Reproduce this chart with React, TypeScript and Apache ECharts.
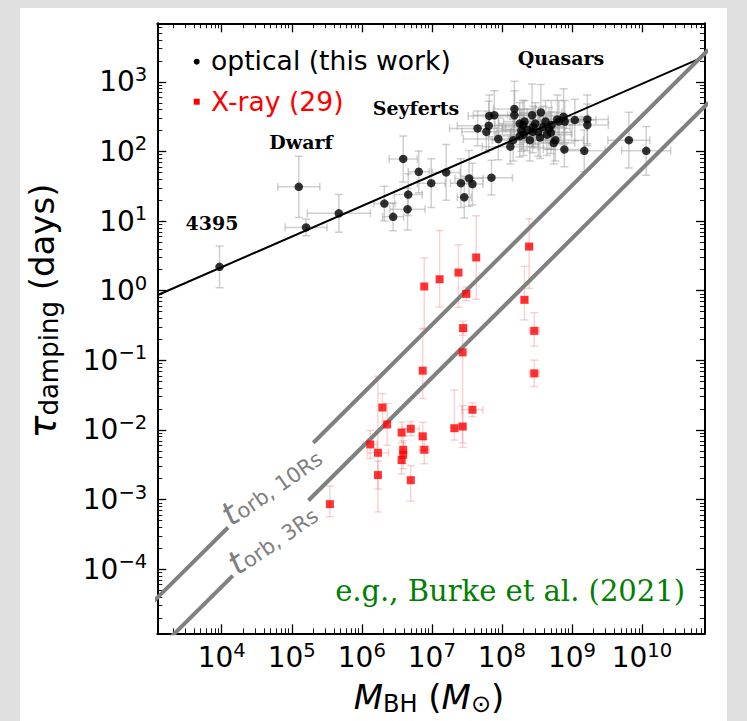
import React, { useEffect, useRef } from "react";
import * as echarts from "echarts";

// ---- axis ranges (log10 units) and tick labels ----
const xLogRange = [3.08, 10.9];
const yLogRange = [-4.92, 3.84];
const xTickExponents = [4, 5, 6, 7, 8, 9, 10];
const yTickExponents = [-4, -3, -2, -1, 0, 1, 2, 3];

// ---- optical (this work): M_BH [Msun], tau [days], errors [dex] ----
const opticalMass = [9.3e3, 1.26e5, 1.6e5, 4.7e5, 2.1e6, 2.8e6, 3.9e6, 4.5e6, 4.6e6, 6.5e6, 9.8e6, 1.6e7, 2.6e7, 2.9e7, 3.4e7, 3.8e7, 7.1e7, 4.5e7, 6.0e7, 6.5e7, 6.6e7, 7.8e7, 8.9e7, 1.32e8, 1.45e8, 1.51e8, 1.51e8, 2.0e8, 2.3e8, 2.04e8, 2.5e8, 2.7e8, 2.8e8, 3.3e8, 3.6e8, 3.9e8, 4.4e8, 5.1e8, 5.8e8, 5.5e8, 6.2e8, 6.5e8, 7.6e8, 7.9e8, 7.8e8, 1.1e9, 1.5e9, 1.66e9, 1.66e9, 6.5e9, 1.15e10, 1.8e8, 1.9e8, 2.1e8, 3.0e8, 4.2e8, 4.7e8, 2.75e8, 3.5e8, 1.8e8, 5.0e8];
const opticalTau = [2.2, 31, 8.1, 12.9, 17.8, 11.5, 78, 14.8, 24, 51, 35, 50, 35, 22, 41, 34, 42, 214, 191, 234, 324, 331, 151, 117, 145, 407, 331, 240, 204, 174, 145, 331, 224, 191, 363, 224, 174, 240, 145, 132, 288, 269, 316, 269, 107, 282, 102, 288, 240, 145, 102, 251, 200, 269, 251, 269, 214, 191, 158, 166, 186];
const opticalMassErrDex = [0, 0.3, 0.3, 0.45, 0.15, 0.15, 0.2, 0.25, 0.2, 0.15, 0.2, 0.2, 0.15, 0.1, 0.2, 0.15, 0.3, 0.4, 0.35, 0.45, 0.3, 0.3, 0.5, 0.4, 0.3, 0.3, 0.35, 0.4, 0.35, 0.4, 0.3, 0.35, 0.45, 0.3, 0.3, 0.3, 0.35, 0.3, 0.4, 0.3, 0.35, 0.3, 0.35, 0.3, 0.3, 0.3, 0.3, 0.3, 0.3, 0.3, 0.35, 0.3, 0.35, 0.3, 0.3, 0.3, 0.3, 0.3, 0.3, 0.3, 0.3];
const opticalTauErrDex = [0.3, 0.44, 0.12, 0.27, 0.25, 0.2, 0.33, 0.3, 0.3, 0.3, 0.35, 0.4, 0.35, 0.3, 0.4, 0.3, 0.25, 0.25, 0.3, 0.35, 0.3, 0.35, 0.3, 0.25, 0.3, 0.4, 0.35, 0.35, 0.3, 0.3, 0.3, 0.45, 0.3, 0.35, 0.4, 0.3, 0.3, 0.35, 0.3, 0.3, 0.35, 0.3, 0.4, 0.3, 0.25, 0.3, 0.3, 0.35, 0.3, 0.4, 0.35, 0.3, 0.3, 0.3, 0.3, 0.3, 0.3, 0.3, 0.3, 0.3, 0.3];

// ---- X-ray (29) ----
const xrayMass = [2.45e8, 4.3e7, 2.4e7, 1.29e7, 7.8e6, 7.4e6, 3.1e7, 2.8e7, 2.75e7, 2.1e8, 2.9e8, 2.9e8, 1.97e6, 2.3e6, 1.32e6, 1.7e6, 1.7e6, 3.7e6, 3.9e6, 3.9e6, 3.7e6, 5.0e6, 5.0e6, 7.4e6, 7.8e6, 2.1e7, 2.75e7, 3.8e7, 3.5e5];
const xrayTau = [4.3, 3.0, 1.82, 1.46, 1.15, 0.071, 0.9, 0.29, 0.13, 0.74, 0.265, 0.065, 0.021, 0.012, 0.0062, 0.0047, 0.00225, 0.0092, 0.0052, 0.0044, 0.0037, 0.0104, 0.0019, 0.0081, 0.0052, 0.0106, 0.0112, 0.0195, 0.00086];
const xrayMassErrDex = [0.05, 0, 0, 0, 0, 0, 0.05, 0.05, 0, 0.05, 0.07, 0.07, 0, 0, 0.1, 0.15, 0, 0, 0, 0, 0, 0.12, 0, 0.05, 0.07, 0.05, 0.05, 0.15, 0];
const xrayTauErrLoDex = [0.6, 0.6, 0.5, 0.4, 0.6, 0.4, 0.1, 0.1, 1.3, 0.29, 0.22, 0.19, 0.3, 0.3, 0.2, 0.85, 0.2, 0.15, 0.2, 0.2, 0.2, 0.1, 0.3, 0.2, 0.2, 0.17, 0.3, 0.1, 0.18];
const xrayTauErrHiDex = [0.4, 0.6, 0.4, 0.7, 0.41, 0.6, 0.1, 0.1, 0.3, 0.48, 0.26, 0.19, 0.2, 0.3, 0.2, 1.1, 0.2, 0.15, 0.2, 0.2, 0.15, 0.1, 0.21, 0.2, 0.15, 0.55, 0.3, 0.1, 0.26];

// ---- lines: endpoints [M_BH, tau] ----
const fitLine = [[1.2e3, 0.86], [6.3e10, 2100]];
const tOrb10Segments = [
  [[1.0e3, 3.24e-5], [1.23e4, 3.98e-4]],
  [[2.03e5, 6.56e-3], [8.9e10, 2884]],
];
const tOrb3Segments = [
  [[1.58e3, 8.9e-6], [1.44e4, 8.1e-5]],
  [[1.73e5, 9.7e-4], [8.9e10, 501]],
];

const lg = Math.log10;
const SANS = "DejaVu Sans";
const SERIF = "DejaVu Serif";

function minorTicks(lo: number, hi: number) {
  const out: number[] = [];
  for (let n = Math.floor(lo) - 1; n <= Math.ceil(hi); n++) {
    for (let k = 2; k <= 9; k++) {
      const v = n + Math.log10(k);
      if (v > lo && v < hi) out.push(+v.toFixed(5));
    }
  }
  return out;
}

const supText = (v: number) => `{b|10}{s|${v < 0 ? "\u2212" + Math.abs(v) : v}}`;
const tickRich = {
  b: { fontSize: 28, fontFamily: SANS, color: "#000" },
  s: { fontSize: 19.6, fontFamily: SANS, color: "#000", padding: [0, 0, 15, 0] },
};

function errRender(color: string, cap: number) {
  return (params: any, api: any) => {
    const y = api.value(1);
    const x = api.value(0);
    const xl = api.value(2), xh = api.value(3), yl = api.value(4), yh = api.value(5);
    const style = { stroke: color, lineWidth: 1.5, fill: null };
    const children: any[] = [];
    if (xh > xl) {
      const a = api.coord([xl, y]);
      const b = api.coord([xh, y]);
      children.push({ type: "line", shape: { x1: a[0], y1: a[1], x2: b[0], y2: b[1] }, style });
      children.push({ type: "line", shape: { x1: a[0], y1: a[1] - cap, x2: a[0], y2: a[1] + cap }, style });
      children.push({ type: "line", shape: { x1: b[0], y1: b[1] - cap, x2: b[0], y2: b[1] + cap }, style });
    }
    if (yh > yl) {
      const a = api.coord([x, yl]);
      const b = api.coord([x, yh]);
      children.push({ type: "line", shape: { x1: a[0], y1: a[1], x2: b[0], y2: b[1] }, style });
      children.push({ type: "line", shape: { x1: a[0] - cap, y1: a[1], x2: a[0] + cap, y2: a[1] }, style });
      children.push({ type: "line", shape: { x1: b[0] - cap, y1: b[1], x2: b[0] + cap, y2: b[1] }, style });
    }
    return { type: "group", children };
  };
}

export default function App() {
  const ref = useRef<HTMLDivElement>(null);
  useEffect(() => {
    const chart = echarts.init(ref.current!, null, { renderer: "svg" });
    const gridRect = { left: 157.3, top: 23.3, width: 547.7, height: 610 };
    const xMinor = minorTicks(xLogRange[0], xLogRange[1]);
    const yMinor = minorTicks(yLogRange[0], yLogRange[1]);

    const mkAxis = (dim: "x" | "y", gridIndex: number, position: string, major: boolean, labels: boolean) => {
      const range = dim === "x" ? xLogRange : yLogRange;
      const ticks = major ? (dim === "x" ? xTickExponents : yTickExponents) : dim === "x" ? xMinor : yMinor;
      return {
        type: "value",
        gridIndex,
        position,
        min: range[0],
        max: range[1],
        axisLine: { show: major, onZero: false, lineStyle: { color: "#000", width: 2 } },
        axisTick: {
          show: true,
          inside: true,
          length: major ? 9 : 5,
          customValues: ticks,
          lineStyle: { color: "#000", width: major ? 1.3 : 0.9 },
        },
        axisLabel: labels
          ? {
              show: true,
              customValues: ticks,
              margin: dim === "x" ? 7 : 10,
              formatter: (v: number) => supText(Math.round(v)),
              rich: tickRich,
            }
          : { show: false },
        splitLine: { show: false },
      };
    };

    const opticalData = opticalMass.map((m, i) => [lg(m), lg(opticalTau[i])]);
    const opticalErr = opticalMass.map((m, i) => [
      lg(m), lg(opticalTau[i]),
      lg(m) - opticalMassErrDex[i], lg(m) + opticalMassErrDex[i],
      lg(opticalTau[i]) - opticalTauErrDex[i], lg(opticalTau[i]) + opticalTauErrDex[i],
    ]);
    const xrayData = xrayMass.map((m, i) => [lg(m), lg(xrayTau[i])]);
    const xrayErr = xrayMass.map((m, i) => [
      lg(m), lg(xrayTau[i]),
      lg(m) - xrayMassErrDex[i], lg(m) + xrayMassErrDex[i],
      lg(xrayTau[i]) - xrayTauErrLoDex[i], lg(xrayTau[i]) + xrayTauErrHiDex[i],
    ]);
    const toLog = (seg: number[][]) => seg.map((p) => [lg(p[0]), lg(p[1])]);
    const lineSeries = (seg: number[][], color: string, width: number) => ({
      type: "line",
      data: toLog(seg),
      symbol: "none",
      showSymbol: false,
      clip: true,
      silent: true,
      z: 3,
      lineStyle: { color, width, cap: "butt" },
    });

    const orbRich = {
      t: { fontSize: 33, fontFamily: SANS, fontStyle: "italic", color: "#808080" },
      s: { fontSize: 21, fontFamily: SANS, color: "#808080", padding: [10, 0, 0, 0] },
    };
    const orbRotation = (35 * Math.PI) / 180;

    const option: any = {
      animation: false,
      grid: [
        { ...gridRect, containLabel: false },
        { ...gridRect, containLabel: false },
      ],
      xAxis: [
        mkAxis("x", 0, "bottom", true, true),
        mkAxis("x", 0, "top", true, false),
        mkAxis("x", 1, "bottom", false, false),
        mkAxis("x", 1, "top", false, false),
      ],
      yAxis: [
        mkAxis("y", 0, "left", true, true),
        mkAxis("y", 0, "right", true, false),
        mkAxis("y", 1, "left", false, false),
        mkAxis("y", 1, "right", false, false),
      ],
      series: [
        {
          type: "custom",
          name: "optical errors",
          xAxisIndex: 0,
          yAxisIndex: 0,
          data: opticalErr,
          renderItem: errRender("rgba(150,150,150,0.45)", 4),
          clip: true,
          silent: true,
          z: 1,
        },
        {
          type: "custom",
          name: "X-ray errors",
          xAxisIndex: 0,
          yAxisIndex: 0,
          data: xrayErr,
          renderItem: errRender("rgba(240,110,110,0.3)", 4),
          clip: true,
          silent: true,
          z: 1,
        },
        { ...lineSeries(fitLine, "#000", 2), name: "fit" },
        ...tOrb10Segments.map((s) => ({ ...lineSeries(s, "#808080", 4), name: "t_orb,10Rs" })),
        ...tOrb3Segments.map((s) => ({ ...lineSeries(s, "#808080", 4), name: "t_orb,3Rs" })),
        {
          type: "scatter",
          name: "optical (this work)",
          data: opticalData,
          symbol: "circle",
          symbolSize: 8.5,
          itemStyle: { color: "#000" },
          z: 4,
          silent: true,
        },
        {
          type: "scatter",
          name: "X-ray (29)",
          data: xrayData,
          symbol: "rect",
          symbolSize: 8,
          itemStyle: { color: "#ff0000" },
          z: 4,
          silent: true,
        },
      ],
      graphic: [
        // legend
        { type: "circle", shape: { cx: 196.7, cy: 61.7, r: 3 }, style: { fill: "#000" }, silent: true },
        { type: "text", x: 211, y: 60, style: { text: "optical (this work)", fill: "#000", font: `26.6px "${SANS}"`, align: "left", verticalAlign: "middle" } },
        { type: "rect", shape: { x: 193.7, y: 98.7, width: 6, height: 6 }, style: { fill: "#ff0000" }, silent: true },
        { type: "text", x: 211, y: 101, style: { text: "X-ray (29)", fill: "#ff0000", font: `26.6px "${SANS}"`, align: "left", verticalAlign: "middle" } },
        // annotations
        { type: "text", x: 561, y: 58, style: { text: "Quasars", fill: "#000", font: `bold 19px "${SERIF}"`, align: "center", verticalAlign: "middle" } },
        { type: "text", x: 416, y: 108, style: { text: "Seyferts", fill: "#000", font: `bold 19px "${SERIF}"`, align: "center", verticalAlign: "middle" } },
        { type: "text", x: 301, y: 142, style: { text: "Dwarf", fill: "#000", font: `bold 19px "${SERIF}"`, align: "center", verticalAlign: "middle" } },
        { type: "text", x: 212, y: 223, style: { text: "4395", fill: "#000", font: `bold 19px "${SERIF}"`, align: "center", verticalAlign: "middle" } },
        { type: "text", x: 685, y: 591, style: { text: "e.g., Burke et al. (2021)", fill: "#008000", font: `29px "${SERIF}"`, align: "right", verticalAlign: "middle" } },
        // orbital time labels
        {
          type: "text", x: 271, y: 485, rotation: orbRotation,
          style: { text: "{t|t}{s|orb, 10Rs}", fill: "#808080", align: "center", verticalAlign: "middle", rich: orbRich },
        },
        {
          type: "text", x: 272, y: 538, rotation: orbRotation,
          style: { text: "{t|t}{s|orb, 3Rs}", fill: "#808080", align: "center", verticalAlign: "middle", rich: orbRich },
        },
        // axis titles
        {
          type: "text", x: 429, y: 697,
          style: {
            text: "{m|M}{s|BH}{n| (}{m|M}{s|\u2299}{n|)}", fill: "#000", align: "center", verticalAlign: "middle",
            rich: {
              m: { fontSize: 34, fontFamily: SANS, fontStyle: "italic", color: "#000" },
              n: { fontSize: 34, fontFamily: SANS, color: "#000" },
              s: { fontSize: 24, fontFamily: SANS, color: "#000", padding: [13, 0, 0, 0] },
            },
          },
        },
        {
          type: "text", x: 42, y: 311, rotation: Math.PI / 2,
          style: {
            text: "{t|\u03c4}{s|damping}{n| (days)}", fill: "#000", align: "center", verticalAlign: "middle",
            rich: {
              t: { fontSize: 38, fontFamily: SANS, fontStyle: "italic", color: "#000" },
              n: { fontSize: 34, fontFamily: SANS, color: "#000" },
              s: { fontSize: 26, fontFamily: SANS, color: "#000", padding: [14, 0, 0, 0] },
            },
          },
        },
      ],
    };
    chart.setOption(option);
    return () => chart.dispose();
  }, []);
  return (
    <div style={{ position: "fixed", left: 0, top: 0, width: 747, height: 721, background: "#e0e0e0", overflow: "hidden" }}>
      <div style={{ position: "absolute", left: 20, top: 8, width: 707, height: 713, background: "#ffffff" }} />
      <div ref={ref} style={{ position: "absolute", left: 0, top: 0, width: 747, height: 721 }} />
    </div>
  );
}
